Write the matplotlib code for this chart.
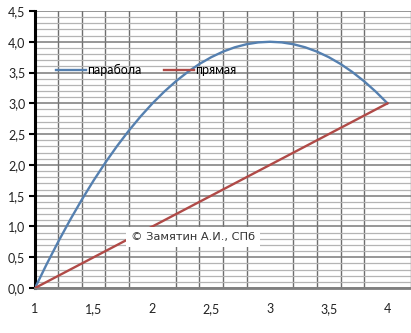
import numpy as np
import matplotlib
matplotlib.use('Agg')
import matplotlib.pyplot as plt

# data
x_par = [1.0, 1.1, 1.2, 1.3, 1.4, 1.5, 1.6, 1.7, 1.8, 1.9, 2.0,
         2.1, 2.2, 2.3, 2.4, 2.5, 2.6, 2.7, 2.8, 2.9, 3.0,
         3.1, 3.2, 3.3, 3.4, 3.5, 3.6, 3.7, 3.8, 3.9, 4.0]
y_par = [0.0, 0.39, 0.76, 1.11, 1.44, 1.75, 2.04, 2.31, 2.56, 2.79, 3.0,
         3.19, 3.36, 3.51, 3.64, 3.75, 3.84, 3.91, 3.96, 3.99, 4.0,
         3.99, 3.96, 3.91, 3.84, 3.75, 3.64, 3.51, 3.36, 3.19, 3.0]
x_line = [1.0, 2.0, 3.0, 4.0]
y_line = [0.0, 1.0, 2.0, 3.0]

x_ticks = [1, 1.5, 2, 2.5, 3, 3.5, 4]
x_labels = ['1', '1,5', '2', '2,5', '3', '3,5', '4']
y_ticks = [0, 0.5, 1, 1.5, 2, 2.5, 3, 3.5, 4, 4.5]
y_labels = ['0,0', '0,5', '1,0', '1,5', '2,0', '2,5', '3,0', '3,5', '4,0', '4,5']

plt.rcParams['font.family'] = ['Lato', 'DejaVu Sans']

fig = plt.figure(figsize=(4.11, 3.33), dpi=100)
ax = fig.add_axes([35 / 411, 45 / 333, 376 / 411, 277 / 333])

ax.plot(x_par, y_par, color='#5580b0', lw=1.7, label='парабола', zorder=3)
ax.plot(x_line, y_line, color='#b04a47', lw=1.7, label='прямая', zorder=3)

ax.set_xlim(1, 4.2)
ax.set_ylim(0, 4.5)

ax.set_xticks(x_ticks)
ax.set_xticklabels(x_labels)
ax.set_xticks(np.arange(1.0, 4.21, 0.2), minor=True)
ax.set_yticks(y_ticks)
ax.set_yticklabels(y_labels)
ax.set_yticks(np.arange(0, 4.51, 0.1), minor=True)

# grid
ax.grid(False)
ax.xaxis.grid(True, which='minor', color='#6e6e6e', lw=1.0)
ax.yaxis.grid(True, which='major', color='#7a7a7a', lw=1.1)
ax.yaxis.grid(True, which='minor', color='#b4b4b4', lw=0.9)
ax.set_axisbelow(True)

for s in ['top', 'right']:
    ax.spines[s].set_visible(False)
ax.spines['left'].set_color('black')
ax.spines['left'].set_linewidth(2.2)
ax.spines['bottom'].set_color('#808080')
ax.spines['bottom'].set_linewidth(2.0)

ax.tick_params(axis='x', which='both', length=0, pad=11, labelsize=9,
               labelcolor='#222222')
ax.tick_params(axis='y', which='major', length=4, width=1.5, pad=3,
               labelsize=9, labelcolor='#222222')
ax.tick_params(axis='y', which='minor', length=0)

ax.legend(loc='center left', bbox_to_anchor=(0.055, 0.787), ncol=2,
          frameon=False, fontsize=9, handlelength=2.4, handletextpad=0.1,
          columnspacing=1.8, borderpad=0, borderaxespad=0)

ax.text(0.42, 0.184, '\u00a9 Замятин А.И., СПб', transform=ax.transAxes,
        ha='center', va='center', fontsize=8.2, family=['DejaVu Sans'],
        color='#333333',
        bbox=dict(facecolor='white', edgecolor='none',
                  boxstyle='square,pad=0.4'), zorder=4)

plt.savefig('out.png', dpi=100)
